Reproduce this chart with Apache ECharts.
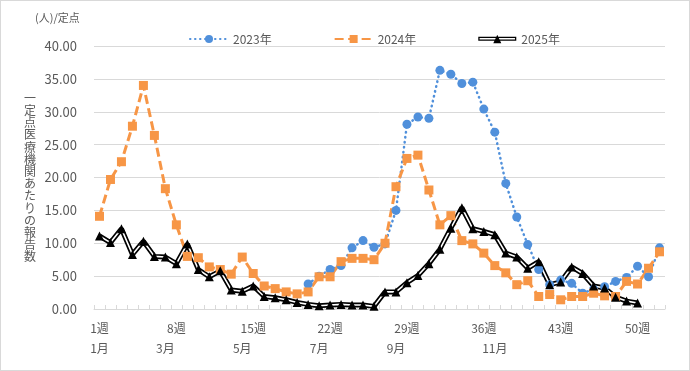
<!DOCTYPE html>
<html>
<head>
<meta charset="utf-8">
<script src="https://cdn.jsdelivr.net/npm/echarts@6/dist/echarts.min.js"></script>
<style>
html,body{margin:0;padding:0;background:#fff;}
#c{width:690px;height:371px;}
#b{position:absolute;left:0;top:0;width:690px;height:371px;box-sizing:border-box;border:1px solid #d9d9d9;pointer-events:none;}
</style>
</head>
<body>
<div id="c"></div>
<div id="b"></div>
<script>
var weeks = ['1週','2週','3週','4週','5週','6週','7週','8週','9週','10週','11週','12週','13週','14週','15週','16週','17週','18週','19週','20週','21週','22週','23週','24週','25週','26週','27週','28週','29週','30週','31週','32週','33週','34週','35週','36週','37週','38週','39週','40週','41週','42週','43週','44週','45週','46週','47週','48週','49週','50週','51週','52週'];
var monthNames = ['1月','3月','5月','7月','9月','11月'];
var monthWeeks = [1, 7, 14, 21, 28, 37];
var yTicks = [0, 5, 10, 15, 20, 25, 30, 35, 40];
var seriesNames = ['2023年', '2024年', '2025年'];

var y2023 = [null,null,null,null,null,null,null,null,null,null,null,null,null,null,null,null,null,null,null,
  3.8, 5.0, 6.0, 6.6, 9.3, 10.4, 9.4, 9.9, 15.0, 28.1, 29.2, 29.0, 36.3, 35.7, 34.3, 34.5, 30.4, 26.9, 19.1, 14.0, 9.8,
  6.0, 3.7, 4.4, 3.9, 2.4, 3.0, 3.4, 4.2, 4.8, 6.5, 4.9, 9.3];
var y2024 = [14.1, 19.7, 22.4, 27.8, 34.0, 26.4, 18.3, 12.8, 8.0, 7.8, 6.4, 6.0, 5.3, 7.9, 5.4, 3.5, 3.1, 2.6, 2.3, 2.6,
  4.9, 4.9, 7.2, 7.7, 7.7, 7.5, 10.0, 18.6, 22.9, 23.4, 18.1, 12.8, 14.2, 10.4, 9.9, 8.5, 6.6, 5.5, 3.7, 4.3,
  1.9, 2.2, 1.4, 1.9, 1.9, 2.4, 2.0, 1.9, 4.2, 3.8, 6.2, 8.7];
var y2025 = [11.1, 10.1, 12.2, 8.3, 10.3, 8.0, 7.9, 6.9, 9.9, 6.0, 4.9, 5.8, 2.9, 2.7, 3.5, 1.9, 1.7, 1.4, 1.0, 0.7,
  0.5, 0.6, 0.7, 0.6, 0.6, 0.4, 2.6, 2.6, 4.0, 5.1, 6.9, 9.1, 12.3, 15.4, 12.2, 11.8, 11.3, 8.5, 7.9, 6.2,
  7.2, 3.7, 4.1, 6.4, 5.4, 3.5, 3.2, 1.8, 1.2, 0.9, null, null];
var yTitle = '一定点医療機関あたりの報告数';
var unitText = '(人)/定点';

var FONT = '"Noto Sans CJK JP", "Noto Sans", sans-serif';
var GRAY = '#595959';
var BLUE = '#5090DB';
var ORANGE = '#F79646';

var chart = echarts.init(document.getElementById('c'), null, {renderer: 'canvas'});
var monthIdx = monthWeeks.map(function (w) { return w - 1; });

var option = {
  animation: false,
  textStyle: {fontFamily: FONT},
  title: {
    text: unitText, left: 30, top: 7,
    textStyle: {fontSize: 11, fontWeight: 'normal', color: GRAY, fontFamily: FONT}
  },
  legend: {
    data: [
      {name: seriesNames[0]},
      {name: seriesNames[1]},
      {name: seriesNames[2], icon: 'path://M1 3 L39 3 L39 7 L1 7 Z M2.3 4.3 L2.3 5.7 L37.7 5.7 L37.7 4.3 Z M16 9.5 L20 1 L24 9.5 Z'}
    ],
    left: 184, top: 28,
    itemWidth: 38, itemHeight: 10, itemGap: 62,
    textStyle: {fontSize: 12, color: GRAY, fontFamily: FONT}
  },
  grid: {left: 94, right: 25, top: 46, bottom: 62},
  xAxis: [{
    type: 'category', data: weeks, boundaryGap: true, position: 'bottom',
    axisLine: {lineStyle: {color: '#D9D9D9', width: 1}},
    axisTick: {show: true, interval: 0, inside: true, length: 4, lineStyle: {color: '#D9D9D9'}},
    axisLabel: {interval: 6, color: GRAY, fontSize: 12, margin: 13, fontFamily: FONT}
  }, {
    type: 'category', data: weeks, boundaryGap: true, position: 'bottom', offset: 20,
    axisLine: {show: false}, axisTick: {show: false},
    axisLabel: {
      interval: function (i) { return monthIdx.indexOf(i) >= 0; },
      formatter: function (v, i) { var k = monthIdx.indexOf(i); return k >= 0 ? monthNames[k] : ''; },
      color: GRAY, fontSize: 12, margin: 13, fontFamily: FONT
    }
  }],
  yAxis: {
    type: 'value', min: yTicks[0], max: yTicks[yTicks.length - 1], interval: yTicks[1] - yTicks[0],
    axisLine: {show: false}, axisTick: {show: false},
    splitLine: {lineStyle: {color: '#D9D9D9', width: 1}},
    axisLabel: {formatter: function (v) { return v.toFixed(2); }, color: GRAY, fontSize: 13, margin: 17, fontFamily: FONT},
    name: yTitle.split('').join('\n'), nameLocation: 'middle', nameRotate: 0, nameGap: 64,
    nameTextStyle: {fontSize: 12, lineHeight: 12.2, color: GRAY, align: 'center', fontFamily: FONT}
  },
  series: [{
    name: seriesNames[0], type: 'line', data: y2023, xAxisIndex: 0,
    symbol: 'circle', symbolSize: 9, showAllSymbol: true,
    itemStyle: {color: BLUE},
    lineStyle: {color: BLUE, width: 2.5, type: [0.5, 4.5], cap: 'round'}
  }, {
    name: seriesNames[1], type: 'line', data: y2024, xAxisIndex: 0,
    symbol: 'rect', symbolSize: 9, showAllSymbol: true,
    itemStyle: {color: ORANGE},
    lineStyle: {color: ORANGE, width: 3, type: [9, 4.5]}
  }, {
    name: '2025outer', type: 'line', data: y2025, xAxisIndex: 0, silent: true,
    symbol: 'none', lineStyle: {color: '#000', width: 5}, itemStyle: {color: '#000'}
  }, {
    name: '2025inner', type: 'line', data: y2025, xAxisIndex: 0, silent: true,
    symbol: 'none', lineStyle: {color: '#fff', width: 1.6}, itemStyle: {color: '#fff'}
  }, {
    name: seriesNames[2], type: 'line', data: y2025, xAxisIndex: 0,
    symbol: 'triangle', symbolSize: 9, showAllSymbol: true,
    itemStyle: {color: '#000'},
    lineStyle: {width: 0, opacity: 0, color: '#000'}
  }]
};
chart.setOption(option);
</script>
</body>
</html>
